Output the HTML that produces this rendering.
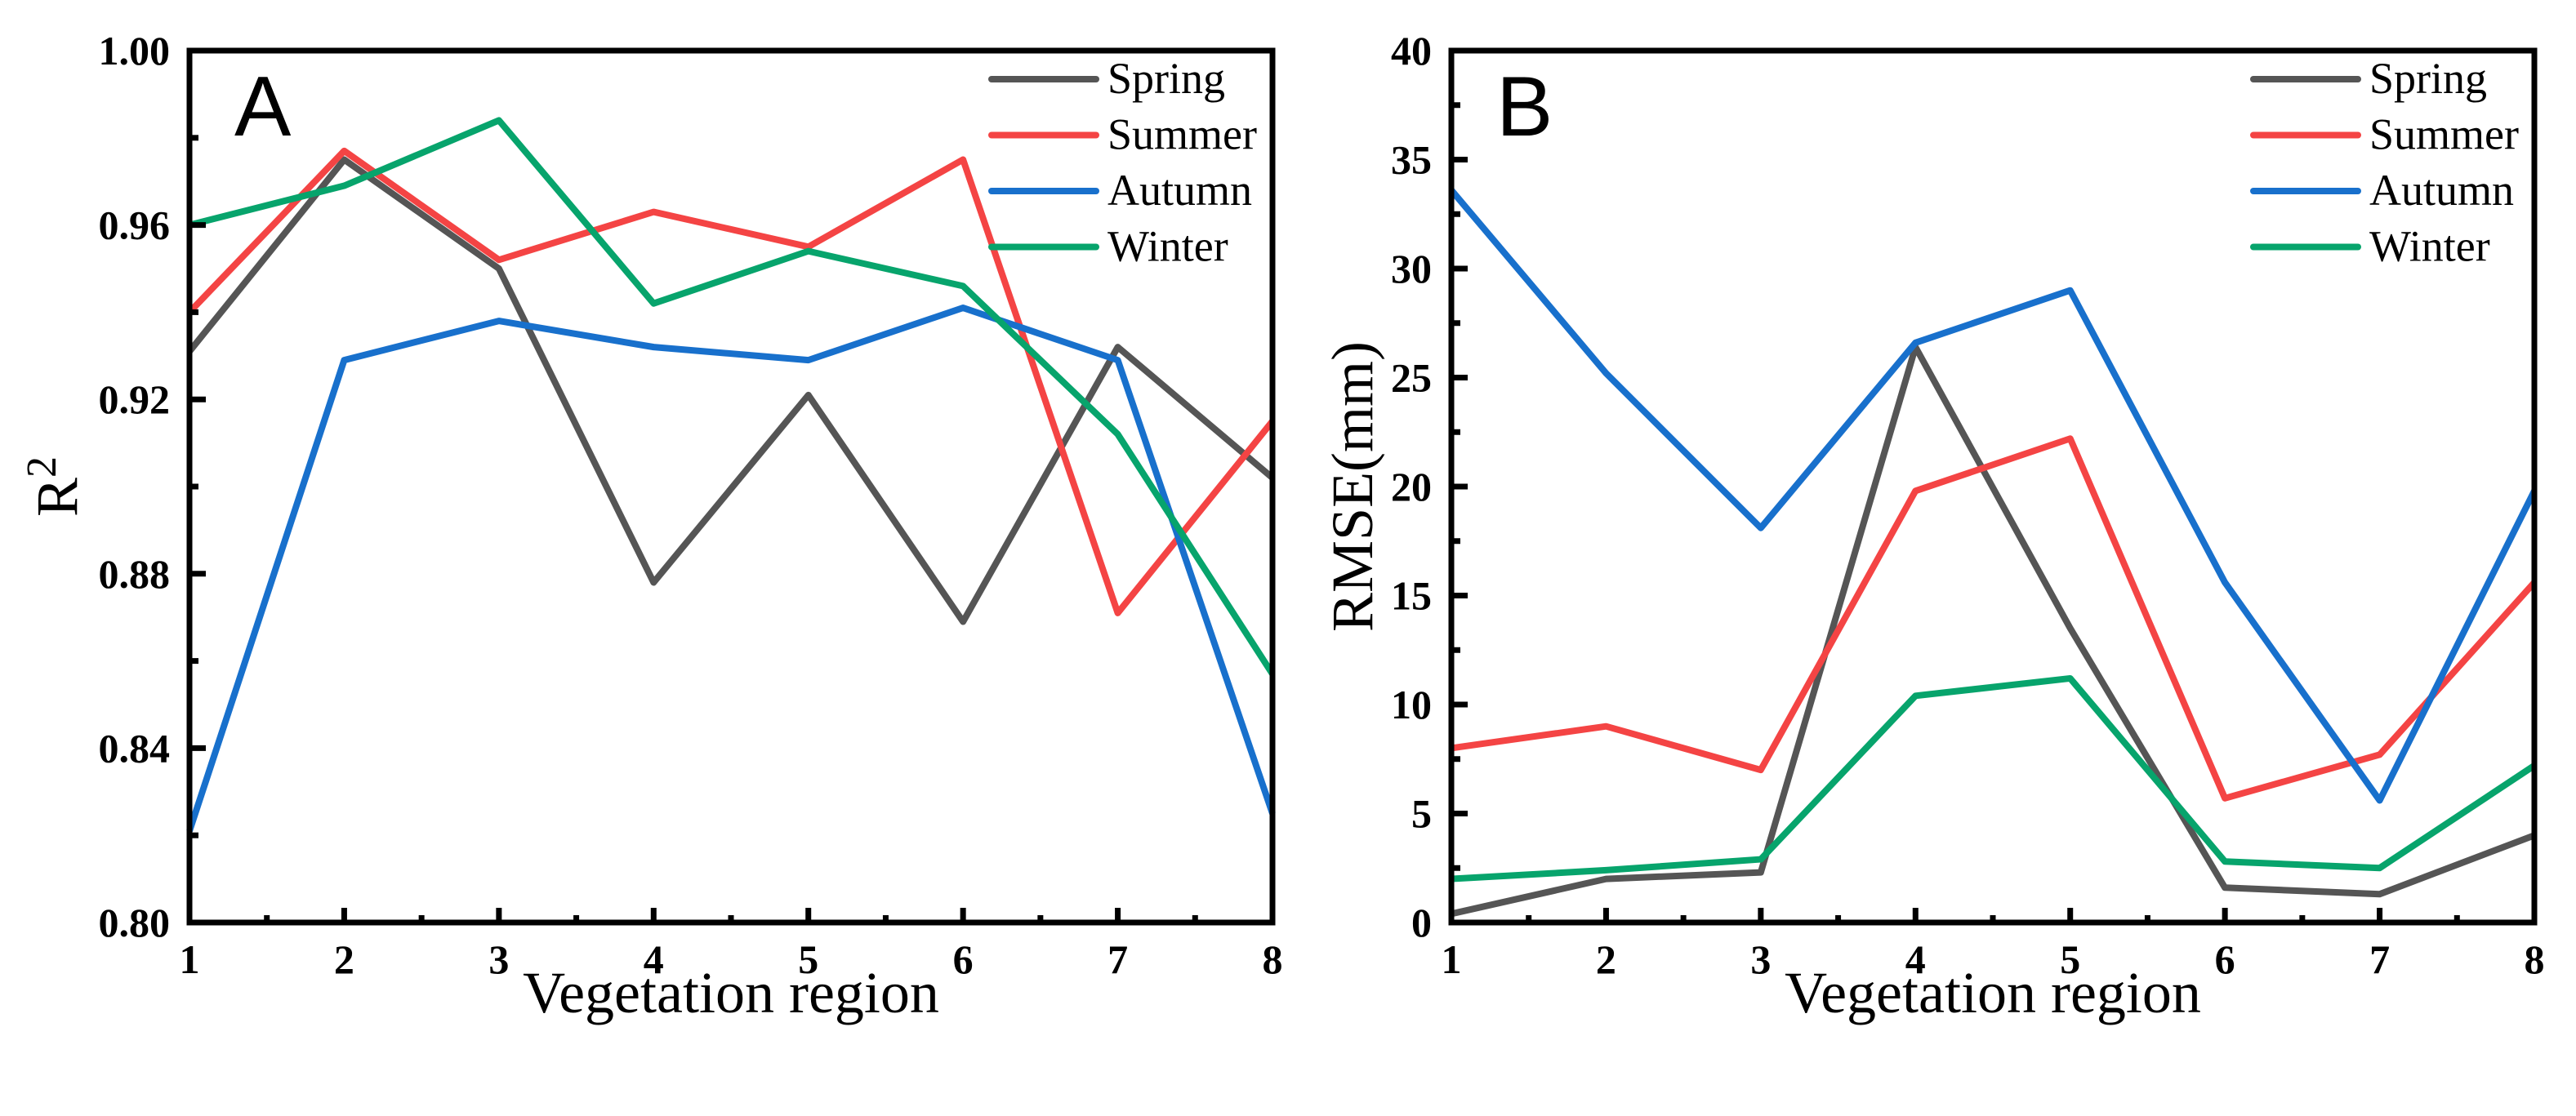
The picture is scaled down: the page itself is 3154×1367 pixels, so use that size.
<!DOCTYPE html>
<html><head><meta charset="utf-8"><style>
html,body{margin:0;padding:0;background:#fff;}
svg{display:block;}
</style></head><body>
<svg id="chart" width="3154" height="1367" viewBox="0 0 3154 1367" xmlns="http://www.w3.org/2000/svg"></svg>
<script>
const categories = [1,2,3,4,5,6,7,8];
const seriesNames = ["Spring","Summer","Autumn","Winter"];
const seriesColors = ["#555555","#f44444","#1870cc","#07a46c"];
const r2Spring = [0.931,0.975,0.950,0.878,0.921,0.869,0.932,0.902];
const r2Summer = [0.940,0.977,0.952,0.963,0.955,0.975,0.871,0.915];
const r2Autumn = [0.821,0.929,0.938,0.932,0.929,0.941,0.929,0.825];
const r2Winter = [0.960,0.969,0.984,0.942,0.954,0.946,0.912,0.857];
const rmseSpring = [0.4,2.0,2.3,26.4,13.5,1.6,1.3,4.0];
const rmseSummer = [8.0,9.0,7.0,19.8,22.2,5.7,7.7,15.6];
const rmseAutumn = [33.6,25.2,18.1,26.6,29.0,15.6,5.6,19.8];
const rmseWinter = [2.0,2.4,2.9,10.4,11.2,2.8,2.5,7.2];
const r2Ticks = ["0.80","0.84","0.88","0.92","0.96","1.00"];
const rmseTicks = ["0","5","10","15","20","25","30","35","40"];

const NS="http://www.w3.org/2000/svg";
const svg=document.getElementById('chart');
function mk(tag,attrs,parent){const e=document.createElementNS(NS,tag);for(const k in attrs)e.setAttribute(k,attrs[k]);(parent||svg).appendChild(e);return e;}

function panel(cfg){
  const g=mk('g',{});
  
  
  const L=cfg.left,R=cfg.left+1326,T=62,B=1130;
  const xs=v=>L+(v-1)/(categories.length-1)*(R-L);
  const ys=v=>B-(v-cfg.ymin)/(cfg.ymax-cfg.ymin)*(B-T);
  cfg.data.forEach((arr,i)=>{
    const p=mk('polyline',{points:arr.map((v,j)=>xs(categories[j])+','+ys(v)).join(' '),fill:'none',stroke:seriesColors[i],'stroke-width':8,'stroke-linejoin':'round'},g);
    
    
  });
  const f=mk('rect',{x:L,y:T,width:R-L,height:B-T,fill:'none',stroke:'#000','stroke-width':7},g);
  
  
  const n=cfg.ticks.length;
  for(let i=0;i<n;i++){
    const v=parseFloat(cfg.ticks[i]);const y=ys(v);
    mk('line',{x1:L,x2:L+20,y1:y,y2:y,stroke:'#000','stroke-width':7},g);
    const t=mk('text',{x:L-24,y:y+17,'text-anchor':'end','font-family':'Liberation Serif, serif','font-weight':'bold','font-size':50},g);
    t.textContent=cfg.ticks[i];
    
    
    if(i<n-1){const vm=(v+parseFloat(cfg.ticks[i+1]))/2;const ym=ys(vm);mk('line',{x1:L,x2:L+11,y1:ym,y2:ym,stroke:'#000','stroke-width':7},g);}
  }
  categories.forEach((c,i)=>{
    const x=xs(c);
    mk('line',{x1:x,x2:x,y1:B,y2:B-18,stroke:'#000','stroke-width':7},g);
    if(i<categories.length-1){const xm=xs(c+0.5);mk('line',{x1:xm,x2:xm,y1:B,y2:B-9,stroke:'#000','stroke-width':7},g);}
    const t=mk('text',{x:x,y:1192,'text-anchor':'middle','font-family':'Liberation Serif, serif','font-weight':'bold','font-size':50},g);
    t.textContent=c;
    
    
  });
  const xt=mk('text',{x:(L+R)/2,y:1240,'text-anchor':'middle','font-family':'Liberation Serif, serif','font-size':72},g);
  xt.textContent='Vegetation region';
  
  
  const yt=mk('text',{x:0,y:0,'text-anchor':'middle','font-family':'Liberation Serif, serif','font-size':72,transform:'translate('+cfg.ytX+',596) rotate(-90)'},g);
  yt.innerHTML=cfg.ytitle;
  
  
  const pl=mk('text',{x:L+55,y:166,'font-family':'Liberation Sans, sans-serif','font-size':104},g);
  pl.textContent=cfg.letter;
  
  
  seriesNames.forEach((s,i)=>{
    const y=97+i*68.5;
    const lg=mk('g',{},g);
    
    
    mk('line',{x1:L+982,x2:L+1110,y1:y,y2:y,stroke:seriesColors[i],'stroke-width':8,'stroke-linecap':'round'},lg);
    const t=mk('text',{x:L+1124,y:y+17,'font-family':'Liberation Serif, serif','font-size':54},lg);
    t.textContent=s;
  });
}
panel({name:'panel-a-r2',left:232,ymin:0.80,ymax:1.00,ticks:r2Ticks,data:[r2Spring,r2Summer,r2Autumn,r2Winter],ytitle:'R<tspan dy="-26" font-size="52">2</tspan>',ytX:94,letter:'A'});
panel({name:'panel-b-rmse',left:1777,ymin:0,ymax:40,ticks:rmseTicks,data:[rmseSpring,rmseSummer,rmseAutumn,rmseWinter],ytitle:'RMSE(mm)',ytX:1680,letter:'B'});
</script>
</body></html>
